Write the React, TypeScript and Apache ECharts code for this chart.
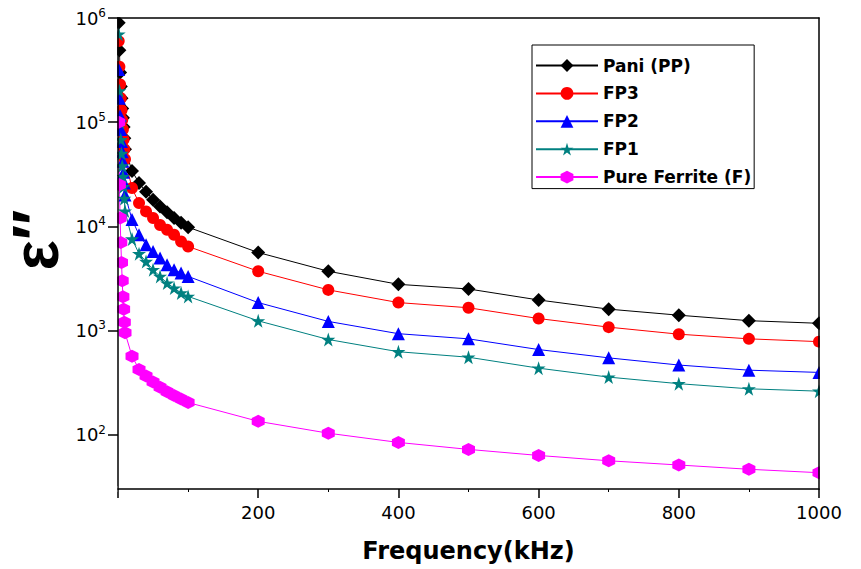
import React, { useEffect, useRef } from 'react';
import * as echarts from 'echarts';

// Frequency in kHz
const frequencyKHz = [1, 2, 3, 4, 5, 6, 7, 8, 9, 10, 20, 30, 40, 50, 60, 70, 80, 90, 100, 200, 300, 400, 500, 600, 700, 800, 900, 1000];

// Dielectric loss ε″ for each sample
const paniPP = [900000, 490000, 300000, 220000, 170000, 135000, 110000, 90000, 70000, 55000, 34000, 26000, 21500, 18000, 15500, 13600, 12000, 10800, 9800, 5600, 3700, 2770, 2500, 1960, 1600, 1400, 1240, 1170];
const fp3 = [600000, 340000, 230000, 170000, 130000, 105000, 85000, 68000, 55000, 44000, 23300, 16700, 13900, 12000, 10300, 9250, 8280, 7150, 6400, 3700, 2450, 1850, 1650, 1300, 1075, 920, 830, 780];
const fp2 = [320000, 170000, 115000, 85000, 65000, 52000, 42000, 33000, 26000, 20000, 11600, 8300, 6650, 5730, 4950, 4270, 3830, 3560, 3300, 1850, 1220, 930, 830, 655, 545, 465, 415, 395];
const fp1 = [700000, 200000, 100000, 68000, 50000, 38000, 30000, 24000, 18500, 14000, 7550, 5460, 4590, 3830, 3300, 2850, 2550, 2290, 2120, 1236, 818, 624, 553, 434, 356, 308, 275, 261];
const pureFerrite = [100000, 25000, 12000, 7000, 4500, 3000, 2100, 1600, 1200, 950, 566, 422, 364, 320, 285, 258, 237, 220, 203, 134, 103, 84, 72, 63, 56, 51, 46.4, 43];

const seriesNames = ['Pani (PP)', 'FP3', 'FP2', 'FP1', 'Pure Ferrite (F)'];
const seriesValues = [paniPP, fp3, fp2, fp1, pureFerrite];
const seriesColors = ['#000000', '#ff0000', '#0000ff', '#008080', '#ff00ff'];

const STAR = 'path://M50,0 L61.2,34.5 L97.6,34.5 L68.2,55.9 L79.4,90.5 L50,69.1 L20.6,90.5 L31.8,55.9 L2.4,34.5 L38.8,34.5 Z';
const HEX = 'path://M50,0 L93.3,25 L93.3,75 L50,100 L6.7,75 L6.7,25 Z';
const seriesSymbols = ['diamond', 'circle', 'triangle', STAR, HEX];
const seriesSymbolSizes = [14, 12, 13, 14, 13];

const xMin = 0;
const xMax = 1000;
const xInterval = 200;
const yMin = 30;
const yMax = 1000000;

const GRID = { left: 118, right: 42, top: 18, bottom: 80 };
const W = 861;
const H = 569;

export default function App() {
  const ref = useRef<HTMLDivElement>(null);

  useEffect(() => {
    if (!ref.current) return;
    const chart = echarts.init(ref.current, null, { renderer: 'svg' });

    const series = seriesNames.map((name, i) => ({
      name,
      type: 'line',
      data: frequencyKHz.map((f, j) => [f, seriesValues[i][j]]),
      symbol: seriesSymbols[i],
      symbolSize: seriesSymbolSizes[i],
      showAllSymbol: true,
      lineStyle: { color: seriesColors[i], width: 1 },
      itemStyle: { color: seriesColors[i], borderWidth: 0 },
      emphasis: { disabled: true },
      clip: false,
      z: 2,
    }));

    const axisLineStyle = { color: '#000', width: 1.5 };

    const option: any = {
      animation: false,
      backgroundColor: '#fff',
      grid: { ...GRID, containLabel: false, outerBoundsMode: 'none' },
      legend: {
        left: 532,
        top: 45,
        orient: 'vertical',
        data: seriesNames,
        itemWidth: 62,
        itemHeight: 16,
        itemGap: 10.9,
        padding: [12, 3, 3, 3],
        borderColor: '#000',
        borderWidth: 1,
        backgroundColor: '#fff',
        textStyle: { fontFamily: 'DejaVu Sans', fontWeight: 'bold', fontSize: 17, color: '#000' },
        z: 20,
      },
      xAxis: [
        {
          type: 'value',
          position: 'bottom',
          min: xMin,
          max: xMax,
          interval: xInterval,
          z: 10,
          axisLine: { show: true, onZero: false, lineStyle: axisLineStyle },
          axisTick: { show: true, length: 9, lineStyle: { color: '#000', width: 1.5 } },
          minorTick: { show: true, splitNumber: 2, length: 3, lineStyle: { color: '#000', width: 1 } },
          splitLine: { show: false },
          axisLabel: {
            margin: 14,
            fontFamily: 'DejaVu Sans',
            fontSize: 18,
            color: '#000',
            formatter: (v: number) => (v === 0 ? '' : String(v)),
          },
          name: 'Frequency(kHz)',
          nameLocation: 'middle',
          nameGap: 50,
          nameTextStyle: { fontFamily: 'DejaVu Sans', fontWeight: 'bold', fontSize: 24, color: '#000' },
        },
        {
          type: 'value',
          position: 'top',
          min: xMin,
          max: xMax,
          interval: xInterval,
          z: 10,
          axisLine: { show: true, onZero: false, lineStyle: axisLineStyle },
          axisTick: { show: false },
          minorTick: { show: false },
          splitLine: { show: false },
          axisLabel: { show: false },
        },
      ],
      yAxis: [
        {
          type: 'log',
          logBase: 10,
          min: yMin,
          max: yMax,
          z: 10,
          axisLine: { show: true, onZero: false, lineStyle: axisLineStyle },
          axisTick: { show: true, length: 10, lineStyle: { color: '#000', width: 1.5 } },
          minorTick: { show: false },
          splitLine: { show: false },
          axisLabel: {
            margin: 12,
            formatter: (v: number) => {
              const e = Math.log10(v);
              const r = Math.round(e);
              if (Math.abs(e - r) > 1e-6) return '';
              return `{b|10}{s|${r}}`;
            },
            rich: {
              b: { fontFamily: 'DejaVu Sans', fontSize: 18, color: '#000' },
              s: { fontFamily: 'DejaVu Sans', fontSize: 12, color: '#000', padding: [0, 0, 10, 0] },
            },
          },
        },
        {
          type: 'value',
          position: 'right',
          min: 0,
          max: 1,
          z: 10,
          axisLine: { show: true, onZero: false, lineStyle: axisLineStyle },
          axisTick: { show: false },
          splitLine: { show: false },
          axisLabel: { show: false },
        },
      ],
      graphic: [
        { type: 'rect', z: 5, silent: true, shape: { x: 0, y: 0, width: GRID.left - 0.8, height: H }, style: { fill: '#fff' } },
        { type: 'rect', z: 5, silent: true, shape: { x: 0, y: 0, width: W, height: GRID.top - 0.8 }, style: { fill: '#fff' } },
        { type: 'rect', z: 5, silent: true, shape: { x: W - GRID.right + 0.8, y: 0, width: GRID.right, height: H }, style: { fill: '#fff' } },
        { type: 'rect', z: 30, silent: true, shape: { x: 100, y: H - GRID.bottom - 3, width: GRID.left - 100 - 0.8, height: 6 }, style: { fill: '#fff' } },
        {
          type: 'text',
          z: 30,
          silent: true,
          x: 36,
          y: 240,
          rotation: Math.PI / 2,
          style: {
            text: 'ε″',
            fontFamily: 'Liberation Sans',
            fontWeight: 'bold',
            fontSize: 64,
            fill: '#000',
            align: 'center',
            verticalAlign: 'middle',
          },
        },
      ],
      series,
    };

    chart.setOption(option);
    return () => chart.dispose();
  }, []);

  return <div ref={ref} style={{ position: 'absolute', left: 0, top: 0, width: W, height: H }} />;
}
